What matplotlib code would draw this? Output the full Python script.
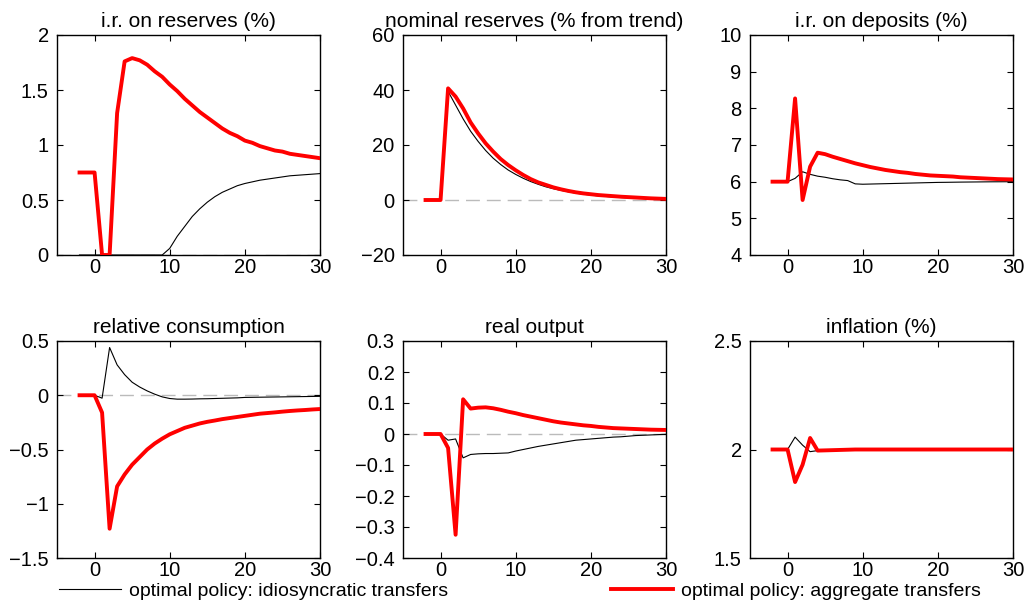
import matplotlib
matplotlib.use("Agg")
import matplotlib.pyplot as plt
from matplotlib.ticker import FuncFormatter
import numpy as np

plt.rcParams['font.family'] = ['Liberation Sans', 'DejaVu Sans']
plt.rcParams['font.size'] = 15

# periods
t = np.arange(-2, 31)

# i.r. on reserves (%)
res_idio = [0, 0, 0, 0, 0, 0, 0, 0, 0, 0, 0, 0,
            0.06, 0.17, 0.26, 0.35, 0.42, 0.48, 0.53, 0.57, 0.60, 0.63, 0.65,
            0.665, 0.68, 0.69, 0.70, 0.71, 0.72, 0.725, 0.73, 0.735, 0.74]
res_aggr = [0.75, 0.75, 0.75, 0, 0, 1.29, 1.76, 1.79, 1.77, 1.73, 1.67, 1.62,
            1.55, 1.49, 1.42, 1.36, 1.30, 1.25, 1.20, 1.15, 1.11, 1.08, 1.04,
            1.02, 0.99, 0.97, 0.95, 0.94, 0.92, 0.91, 0.90, 0.89, 0.88]

# nominal reserves (% from trend)
nom_idio = [0, 0, 0, 39.5, 34.5, 29.5, 25.0, 21.3, 18.0, 15.2, 12.9, 10.9,
            9.3, 7.9, 6.7, 5.7, 4.8, 4.1, 3.5, 3.0, 2.5, 2.1, 1.8,
            1.5, 1.3, 1.1, 0.9, 0.8, 0.7, 0.6, 0.5, 0.4, 0.35]
nom_aggr = [0, 0, 0, 40.6, 37.6, 33.3, 28.2, 24.2, 20.6, 17.6, 14.9, 12.7,
            10.8, 9.1, 7.6, 6.4, 5.5, 4.6, 3.9, 3.3, 2.8, 2.4, 2.1,
            1.8, 1.6, 1.4, 1.2, 1.05, 0.9, 0.75, 0.6, 0.5, 0.4]

# i.r. on deposits (%)
dep_idio = [6, 6, 6, 6.09, 6.27, 6.2, 6.15, 6.12, 6.08, 6.05, 6.03, 5.94,
            5.93, 5.935, 5.94, 5.945, 5.95, 5.955, 5.96, 5.965, 5.97, 5.975, 5.98,
            5.982, 5.985, 5.988, 5.99, 5.992, 5.994, 5.996, 5.997, 5.998, 6.0]
dep_aggr = [6, 6, 6, 8.27, 5.5, 6.41, 6.79, 6.75, 6.68, 6.62, 6.56, 6.5,
            6.45, 6.40, 6.36, 6.32, 6.29, 6.26, 6.24, 6.21, 6.19, 6.17, 6.16,
            6.15, 6.14, 6.12, 6.11, 6.10, 6.09, 6.08, 6.07, 6.065, 6.06]

# relative consumption
cons_idio = [0, 0, 0, -0.027, 0.44, 0.28, 0.19, 0.12, 0.076, 0.04, 0.01, -0.015,
             -0.03, -0.036, -0.036, -0.035, -0.033, -0.032, -0.03, -0.028, -0.026, -0.024, -0.02,
             -0.019, -0.018, -0.017, -0.016, -0.015, -0.014, -0.013, -0.012, -0.011, -0.01]
cons_aggr = [0, 0, 0, -0.16, -1.23, -0.84, -0.73, -0.64, -0.57, -0.50, -0.445, -0.40,
             -0.36, -0.33, -0.30, -0.28, -0.26, -0.245, -0.233, -0.22, -0.21, -0.20, -0.19,
             -0.18, -0.17, -0.164, -0.158, -0.151, -0.145, -0.14, -0.136, -0.131, -0.127]

# real output
out_idio = [0, 0, 0, -0.02, -0.016, -0.077, -0.066, -0.064, -0.063, -0.063, -0.062, -0.061,
            -0.055, -0.05, -0.045, -0.04, -0.036, -0.032, -0.028, -0.024, -0.02, -0.018, -0.016,
            -0.014, -0.012, -0.01, -0.009, -0.007, -0.005, -0.004, -0.003, -0.002, -0.001]
out_aggr = [0, 0, 0, -0.045, -0.325, 0.112, 0.082, 0.085, 0.086, 0.083, 0.078, 0.072,
            0.067, 0.061, 0.056, 0.051, 0.046, 0.041, 0.037, 0.034, 0.031, 0.028, 0.026,
            0.023, 0.021, 0.019, 0.018, 0.017, 0.016, 0.015, 0.014, 0.0135, 0.013]

# inflation (%)
inf_idio = [2, 2, 2, 2.057, 2.02, 1.99, 1.995, 1.997, 1.998, 1.999, 2.0, 2.0,
            2.0, 2.0, 2.0, 2.0, 2.0, 2.0, 2.0, 2.0, 2.0, 2.0, 2.0,
            2.0, 2.0, 2.0, 2.0, 2.0, 2.0, 2.0, 2.0, 2.0, 2.0]
inf_aggr = [2, 2, 2, 1.85, 1.93, 2.053, 1.995, 1.996, 1.997, 1.998, 1.999, 2.0,
            2.0, 2.0, 2.0, 2.0, 2.0, 2.0, 2.0, 2.0, 2.0, 2.0, 2.0,
            2.0, 2.0, 2.0, 2.0, 2.0, 2.0, 2.0, 2.0, 2.0, 2.0]

titles = ['i.r. on reserves (%)', 'nominal reserves (% from trend)', 'i.r. on deposits (%)',
          'relative consumption', 'real output', 'inflation (%)']
idio = [res_idio, nom_idio, dep_idio, cons_idio, out_idio, inf_idio]
aggr = [res_aggr, nom_aggr, dep_aggr, cons_aggr, out_aggr, inf_aggr]
yticks = [[0, 0.5, 1, 1.5, 2],
          [-20, 0, 20, 40, 60],
          [4, 5, 6, 7, 8, 9, 10],
          [-1.5, -1, -0.5, 0, 0.5],
          [-0.4, -0.3, -0.2, -0.1, 0, 0.1, 0.2, 0.3],
          [1.5, 2, 2.5]]
zero_line = [True, True, False, True, True, False]

fig = plt.figure(figsize=(10.25, 6.01), dpi=100)

lefts = [57/1025, 403/1025, 750/1025]
bottoms = [346/601, 43/601]
w = 263/1025
heights = [220/601, 217/601]

fmt = FuncFormatter(lambda v, p: ('%g' % v).replace('-', '\u2212'))

for i in range(6):
    r = i // 3
    c = i % 3
    ax = fig.add_axes([lefts[c], bottoms[r], w, heights[r]])
    if zero_line[i]:
        ax.axhline(0, color='#bbbbbb', lw=1.0, ls=(0, (10, 5)), zorder=1)
    l1, = ax.plot(t, idio[i], color='black', lw=0.8, zorder=2)
    l2, = ax.plot(t, aggr[i], color='#ff0000', lw=2.8, zorder=3)
    ax.set_xlim(-5, 30)
    ax.set_ylim(yticks[i][0], yticks[i][-1])
    ax.set_xticks([0, 10, 20, 30])
    ax.set_yticks(yticks[i])
    ax.yaxis.set_major_formatter(fmt)
    ax.xaxis.set_major_formatter(fmt)
    ax.tick_params(direction='in', top=True, right=True, length=4, width=0.8,
                   labelsize=14.5)
    ax.tick_params(axis='y', pad=6)
    ax.tick_params(axis='x', pad=2)
    for s in ax.spines.values():
        s.set_linewidth(1.0)
    ax.set_title(titles[i], fontsize=15, pad=6)

fig.legend([l1], ['optimal policy: idiosyncratic transfers'], loc='center left',
           bbox_to_anchor=(59/1025, 1 - 591/601), frameon=False, fontsize=14,
           handlelength=3.2, handletextpad=0.4, borderpad=0, borderaxespad=0)
fig.legend([l2], ['optimal policy: aggregate transfers'], loc='center left',
           bbox_to_anchor=(611/1025, 1 - 591/601), frameon=False, fontsize=14,
           handlelength=3.2, handletextpad=0.4, borderpad=0, borderaxespad=0)

fig.savefig('out.png', dpi=100)
